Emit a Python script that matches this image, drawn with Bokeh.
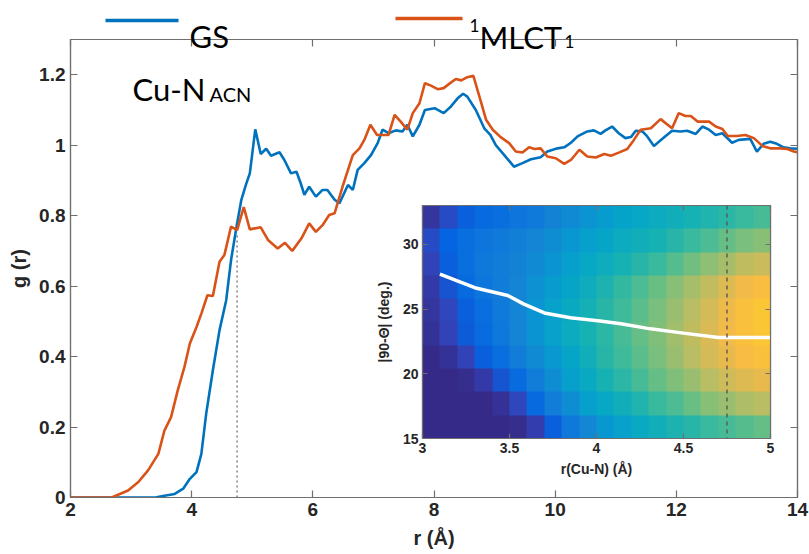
import numpy as np
from bokeh.plotting import figure
from bokeh.models import Range1d, LinearAxis, FixedTicker, Label, Span, LinearColorMapper
from bokeh.core.properties import value
from bokeh.layouts import column
from bokeh.embed import file_html
from bokeh.resources import INLINE

# ---------------------------------------------------------------- data
# Cu-N(ACN) radial distribution function, ground state
r_gs = [2.0, 3.4, 3.55, 3.72, 3.86, 3.97, 4.08, 4.16, 4.24, 4.35, 4.46, 4.57, 4.65, 4.74,
        4.82, 4.90, 4.96, 5.05, 5.14, 5.23, 5.31, 5.45, 5.53, 5.64, 5.73, 5.80, 5.86, 5.94,
        6.05, 6.16, 6.24, 6.36, 6.44, 6.58, 6.66, 6.74, 6.85, 6.96, 7.07, 7.15, 7.25, 7.37,
        7.48, 7.56, 7.65, 7.76, 7.85, 8.01, 8.16, 8.28, 8.39, 8.48, 8.55, 8.69, 8.83, 8.93,
        9.02, 9.16, 9.32, 9.46, 9.60, 9.76, 9.87, 10.04, 10.15, 10.26, 10.37, 10.53, 10.64,
        10.75, 10.83, 10.94, 11.05, 11.16, 11.25, 11.33, 11.44, 11.52, 11.63, 11.77, 11.93,
        12.07, 12.18, 12.32, 12.43, 12.54, 12.65, 12.76, 12.92, 13.03, 13.22, 13.33, 13.44,
        13.55, 13.66, 13.77, 13.88, 14.0]
g_gs = [0.0, 0.0, 0.005, 0.01, 0.025, 0.053, 0.072, 0.124, 0.238, 0.361, 0.475, 0.56, 0.674,
        0.768, 0.845, 0.89, 0.92, 1.045, 0.975, 0.99, 0.97, 0.98, 0.958, 0.92, 0.925, 0.892,
        0.859, 0.882, 0.854, 0.873, 0.873, 0.845, 0.835, 0.887, 0.873, 0.93, 0.949, 0.972,
        1.006, 1.044, 1.034, 1.042, 1.039, 1.058, 1.025, 1.058, 1.10, 1.105, 1.091, 1.11,
        1.133, 1.146, 1.138, 1.10, 1.048, 1.029, 1.0, 0.972, 0.939, 0.949, 0.96, 0.966,
        0.982, 0.991, 0.994, 1.007, 1.025, 1.039, 1.042, 1.032, 1.042, 1.053, 1.034, 1.02,
        1.023, 1.041, 1.039, 1.025, 0.998, 1.018, 1.041, 1.039, 1.041, 1.032, 1.053, 1.044,
        1.029, 1.034, 1.007, 1.015, 1.018, 0.982, 1.004, 1.01, 1.004, 0.994, 0.991, 0.99]

# Cu-N(ACN) radial distribution function, 1MLCT1 state
r_mlct = [2.0, 2.68, 2.95, 3.12, 3.28, 3.45, 3.55, 3.66, 3.77, 3.88, 3.97, 4.08, 4.16, 4.26,
          4.35, 4.46, 4.54, 4.65, 4.75, 4.86, 4.96, 5.14, 5.26, 5.42, 5.54, 5.66, 5.81, 5.94,
          6.05, 6.16, 6.27, 6.36, 6.49, 6.66, 6.77, 6.85, 6.95, 7.06, 7.25, 7.35, 7.45, 7.56,
          7.65, 7.76, 7.85, 7.95, 8.06, 8.16, 8.25, 8.36, 8.45, 8.55, 8.65, 8.75, 8.86, 8.97,
          9.10, 9.24, 9.35, 9.46, 9.57, 9.66, 9.76, 9.87, 10.01, 10.15, 10.26, 10.40, 10.53,
          10.67, 10.81, 10.92, 11.05, 11.19, 11.30, 11.41, 11.58, 11.74, 11.93, 12.04, 12.15,
          12.24, 12.35, 12.54, 12.65, 12.76, 12.85, 13.0, 13.14, 13.28, 13.42, 13.55, 13.72,
          13.83, 13.94, 14.0]
g_mlct = [0.0, 0.0, 0.02, 0.044, 0.077, 0.124, 0.19, 0.228, 0.304, 0.37, 0.437, 0.484,
          0.522, 0.574, 0.572, 0.669, 0.688, 0.769, 0.759, 0.824, 0.761, 0.767, 0.731, 0.707,
          0.723, 0.70, 0.735, 0.778, 0.754, 0.773, 0.802, 0.807, 0.882, 0.972, 0.991, 1.015,
          1.058, 1.029, 1.029, 1.086, 1.067, 1.044, 1.091, 1.119, 1.176, 1.169, 1.159, 1.162,
          1.174, 1.188, 1.184, 1.193, 1.197, 1.138, 1.072, 1.044, 1.023, 1.006, 0.982, 0.979,
          0.994, 0.989, 0.991, 0.968, 0.963, 0.947, 0.958, 0.987, 0.968, 0.965, 0.975, 0.970,
          0.979, 0.989, 1.015, 1.044, 1.048, 1.074, 1.048, 1.091, 1.083, 1.083, 1.067, 1.067,
          1.053, 1.046, 1.026, 1.026, 1.029, 1.02, 0.998, 0.991, 0.991, 0.989, 0.982, 0.98]

r_marker = 4.75      # first-shell cutoff
g_marker = 0.75      # height of the cutoff guide

x_ticks = [2, 4, 6, 8, 10, 12, 14]
y_ticks = [0, 0.2, 0.4, 0.6, 0.8, 1, 1.2]
y_tick_labels = {0: "0", 1: "1"}

# inset: angle distribution vs. Cu-N distance
inset_r_ticks = [3, 3.5, 4, 4.5, 5]
inset_r_labels = {3: "3", 4: "4", 5: "5"}
inset_deg_ticks = [15, 20, 25, 30]
mean_r = [3.10, 3.30, 3.49, 3.58, 3.70, 3.85, 4.02, 4.14, 4.31, 4.50, 4.70, 5.0]
mean_deg = [27.7, 26.65, 26.05, 25.4, 24.7, 24.33, 24.07, 23.86, 23.47, 23.14, 22.8, 22.8]

# normalised population, rows from 15 deg (bottom) to 33 deg (top), columns r = 3..5
density = [
    [0, 0, 0, 0, 0, 0.01, 0.05, 0.12, 0.2, 0.26, 0.31, 0.35, 0.39, 0.42, 0.45, 0.47, 0.5, 0.52, 0.54, 0.56],
    [0, 0, 0, 0, 0.02, 0.07, 0.15, 0.22, 0.28, 0.34, 0.38, 0.42, 0.46, 0.5, 0.53, 0.57, 0.61, 0.64, 0.67, 0.69],
    [0, 0, 0.01, 0.04, 0.1, 0.16, 0.22, 0.28, 0.34, 0.39, 0.44, 0.48, 0.52, 0.56, 0.6, 0.64, 0.69, 0.73, 0.76, 0.78],
    [0, 0.02, 0.06, 0.12, 0.17, 0.22, 0.27, 0.32, 0.37, 0.42, 0.47, 0.51, 0.55, 0.59, 0.64, 0.69, 0.74, 0.78, 0.81, 0.83],
    [0.02, 0.06, 0.11, 0.16, 0.2, 0.25, 0.3, 0.35, 0.4, 0.44, 0.48, 0.52, 0.56, 0.6, 0.65, 0.7, 0.75, 0.8, 0.83, 0.85],
    [0.03, 0.07, 0.12, 0.17, 0.21, 0.25, 0.3, 0.35, 0.39, 0.43, 0.47, 0.51, 0.55, 0.59, 0.64, 0.69, 0.74, 0.79, 0.83, 0.85],
    [0.04, 0.1, 0.15, 0.19, 0.22, 0.25, 0.29, 0.33, 0.37, 0.41, 0.45, 0.49, 0.53, 0.57, 0.61, 0.66, 0.71, 0.76, 0.8, 0.82],
    [0.06, 0.12, 0.17, 0.2, 0.22, 0.24, 0.27, 0.3, 0.34, 0.38, 0.41, 0.44, 0.47, 0.5, 0.54, 0.58, 0.62, 0.66, 0.7, 0.72],
    [0.08, 0.13, 0.17, 0.19, 0.21, 0.23, 0.25, 0.28, 0.31, 0.34, 0.37, 0.4, 0.42, 0.44, 0.47, 0.5, 0.53, 0.56, 0.59, 0.61],
    [0.03, 0.08, 0.12, 0.15, 0.17, 0.19, 0.21, 0.24, 0.27, 0.3, 0.33, 0.36, 0.38, 0.4, 0.42, 0.44, 0.46, 0.48, 0.5, 0.52],
]

# ---------------------------------------------------------------- style
BLUE = "#0072BD"
ORANGE = "#D95319"
AXIS_GREY = "#6f6f6f"
TEXT = "#262626"
TICK_FONT = "Liberation Sans"
LABEL_FONT = "Lato"

# parula-like colour map
_anchors = [
    (0.2081, 0.1663, 0.5292), (0.1959, 0.2645, 0.7279), (0.0117, 0.3875, 0.8820),
    (0.0498, 0.4586, 0.8641), (0.0793, 0.5200, 0.8312), (0.0343, 0.5966, 0.8199),
    (0.0228, 0.6535, 0.7768), (0.0843, 0.6928, 0.7062), (0.2178, 0.7250, 0.6193),
    (0.3953, 0.7459, 0.5244), (0.5709, 0.7485, 0.4494), (0.7184, 0.7411, 0.3905),
    (0.8507, 0.7299, 0.3360), (0.9739, 0.7314, 0.2666), (0.9880, 0.8066, 0.1794),
    (0.9589, 0.8949, 0.1132), (0.9763, 0.9831, 0.0538),
]
_a = np.array(_anchors)
_pos = np.linspace(0, 1, len(_a))
_t = np.linspace(0, 1, 256)
_rgb = np.stack([np.interp(_t, _pos, _a[:, k]) for k in range(3)], axis=1)
PARULA = ["#%02x%02x%02x" % tuple(int(round(c * 255)) for c in row) for row in _rgb]


def style_axes(fig, tick_size, label_size, tick_in):
    for ax in fig.axis:
        ax.axis_line_color = AXIS_GREY
        ax.axis_line_width = 1.2
        ax.major_tick_line_color = AXIS_GREY
        ax.major_tick_line_width = 1.2
        ax.major_tick_in = tick_in
        ax.major_tick_out = 0
        ax.minor_tick_line_color = None
        ax.major_label_text_font = TICK_FONT
        ax.major_label_text_font_style = "bold"
        ax.major_label_text_font_size = tick_size
        ax.major_label_text_color = TEXT
        ax.axis_label_text_font = TICK_FONT
        ax.axis_label_text_font_style = "bold"
        ax.axis_label_text_font_size = label_size
        ax.axis_label_text_color = TEXT
    # box axes: ticks only
    for ax in fig.above + fig.right:
        ax.major_label_text_font_size = "1px"
        ax.major_label_text_color = None
        ax.major_label_standoff = 0


# all figures of the column share these side borders
SIDE_L, SIDE_R = 70, 12

# ---------------------------------------------------------------- main plot
W, H = 809, 554
FL, FR, FT, FB = SIDE_L, W - SIDE_R, 39, 497
X0, X1, Y0, Y1 = 2, 14, 0, 1.3

p = figure(width=W, height=H, x_range=Range1d(X0, X1), y_range=Range1d(Y0, Y1),
           output_backend="svg", toolbar_location=None,
           min_border_left=SIDE_L, min_border_right=SIDE_R,
           min_border_top=FT, min_border_bottom=H - FB)
p.grid.visible = False
p.outline_line_color = AXIS_GREY
p.outline_line_width = 1.2
p.background_fill_color = "white"
p.border_fill_color = "white"

p.add_layout(LinearAxis(), "above")
p.add_layout(LinearAxis(), "right")
for ax in p.xaxis:
    ax.ticker = FixedTicker(ticks=x_ticks)
for ax in p.yaxis:
    ax.ticker = FixedTicker(ticks=y_ticks)
p.yaxis[0].major_label_overrides = y_tick_labels
style_axes(p, "19px", "20px", 7)
p.below[0].major_label_standoff = 5
p.left[0].major_label_standoff = 5
p.below[0].axis_label = "r (Å)"
p.below[0].axis_label_standoff = 8
p.left[0].axis_label = "g (r)"
p.left[0].axis_label_standoff = 6

p.segment(x0=[r_marker], y0=[0], x1=[r_marker], y1=[g_marker],
          line_color="#8a8a8a", line_width=1.6, line_dash="2 3")
p.line(r_gs, g_gs, line_color=BLUE, line_width=2.6)
p.line(r_mlct, g_mlct, line_color=ORANGE, line_width=2.6)


def dx(px):
    return X0 + (px - FL) * (X1 - X0) / (FR - FL)


def dy(py):
    return Y0 + (FB - py) * (Y1 - Y0) / (FB - FT)


# panel tag
p.add_layout(Label(x=dx(132), y=dy(88), text="Cu-N", text_font=LABEL_FONT,
                   text_font_size="31px", text_color="black", text_baseline="alphabetic"))
p.add_layout(Label(x=dx(209), y=dy(93), text="ACN", text_font=LABEL_FONT,
                   text_font_size="20px", text_color="black", text_baseline="alphabetic"))

# ---------------------------------------------------------------- legend strip
LH = 60
leg = figure(width=W, height=LH, x_range=Range1d(SIDE_L, W - SIDE_R), y_range=Range1d(LH, 0),
             output_backend="svg", toolbar_location=None,
             min_border_left=SIDE_L, min_border_right=SIDE_R,
             min_border_top=0, min_border_bottom=0,
             x_axis_location=None, y_axis_location=None)
leg.styles = {"position": "absolute", "left": "0px", "top": "0px", "z-index": "6"}
leg.grid.visible = False
leg.outline_line_color = None
leg.background_fill_color = None
leg.border_fill_color = None
leg.segment(x0=[105, 395], y0=[20, 18], x1=[178, 462], y1=[20, 18],
            line_color=[BLUE, ORANGE], line_width=3.5)
leg.text(x=[189, 479], y=[35, 36], text=["GS", "MLCT"], text_font=value(LABEL_FONT),
         text_font_size="31px", text_color="black", text_baseline="alphabetic")
leg.text(x=[469, 564], y=[25, 41], text=["1", "1"], text_font=value(LABEL_FONT),
         text_font_size="17px", text_color="black", text_baseline="alphabetic")

# ---------------------------------------------------------------- inset
IL, IR, IT, IB = 422, 770, 205, 438
BT, BB = 8, 46

q = figure(width=(IR - IL) + SIDE_L + SIDE_R, height=(IB - IT) + BT + BB,
           x_range=Range1d(3, 5), y_range=Range1d(15, 33),
           output_backend="svg", toolbar_location=None,
           min_border_left=SIDE_L, min_border_right=SIDE_R,
           min_border_top=BT, min_border_bottom=BB)
q.styles = {"position": "absolute", "left": f"{IL - SIDE_L}px", "top": f"{IT - BT}px",
            "z-index": "5"}
q.grid.visible = False
q.background_fill_color = None
q.border_fill_color = None
q.outline_line_color = AXIS_GREY
q.outline_line_width = 1.2

mapper = LinearColorMapper(palette=PARULA, low=0, high=1)
q.image(image=[np.array(density, dtype=float)], x=3, y=15, dw=2, dh=18, color_mapper=mapper)
q.add_layout(Span(location=r_marker, dimension="height", line_color="#555555",
                  line_width=1.6, line_dash="4 4", line_alpha=0.85))
q.line(mean_r, mean_deg, line_color="white", line_width=3.5)

q.add_layout(LinearAxis(), "above")
q.add_layout(LinearAxis(), "right")
for ax in q.xaxis:
    ax.ticker = FixedTicker(ticks=inset_r_ticks)
for ax in q.yaxis:
    ax.ticker = FixedTicker(ticks=inset_deg_ticks)
q.below[0].major_label_overrides = inset_r_labels
style_axes(q, "14px", "14px", 5)
q.below[0].major_label_standoff = 4
q.left[0].major_label_standoff = 4
q.below[0].axis_label = "r(Cu-N) (Å)"
q.below[0].axis_label_standoff = 5
q.left[0].axis_label = "|90-Θ| (deg.)"
q.left[0].axis_label_standoff = 8

root = column(p, q, leg)
open("out.html", "w").write(file_html(root, INLINE))
